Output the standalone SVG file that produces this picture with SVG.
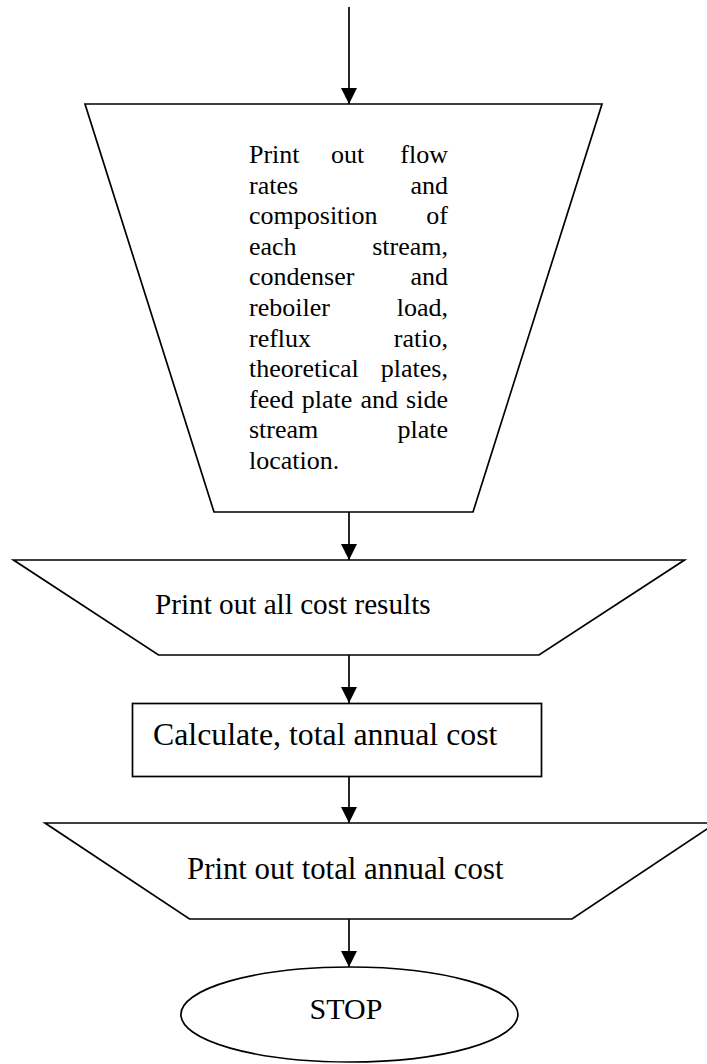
<svg xmlns="http://www.w3.org/2000/svg" width="707" height="1064" viewBox="0 0 707 1064">
<style>
.shape{fill:#fff;stroke:#000;stroke-width:1.7}
.conn{stroke:#000;stroke-width:1.7;fill:none}
.t{font-family:"Liberation Serif","Times New Roman",serif;fill:#000}
.body{font-size:26px}
.lbl{font-size:30px}
</style>
<defs>
<marker id="ah" markerUnits="userSpaceOnUse" markerWidth="16" markerHeight="16" refX="16" refY="8" orient="auto">
<path d="M0,0 L16,8 L0,16 z" fill="#000"/>
</marker>
</defs>
<g id="connectors">
<line class="conn" x1="349" y1="7" x2="349" y2="104" marker-end="url(#ah)"/>
<line class="conn" x1="349" y1="512" x2="349" y2="560" marker-end="url(#ah)"/>
<line class="conn" x1="349" y1="655" x2="349" y2="703" marker-end="url(#ah)"/>
<line class="conn" x1="349" y1="777" x2="349" y2="823" marker-end="url(#ah)"/>
<line class="conn" x1="349" y1="919" x2="349" y2="967" marker-end="url(#ah)"/>
</g>
<g id="print-results">
<polygon class="shape" points="85,104 602,104 473,512 214,512"/>
<text class="t body">
<tspan x="249" y="163">Print</tspan><tspan x="331" y="163">out</tspan><tspan x="448" y="163" text-anchor="end">flow</tspan>
</text>
<text class="t body"><tspan x="249" y="193.6">rates</tspan><tspan x="448" y="193.6" text-anchor="end">and</tspan></text>
<text class="t body"><tspan x="249" y="224.2">composition</tspan><tspan x="448" y="224.2" text-anchor="end">of</tspan></text>
<text class="t body"><tspan x="249" y="254.8">each</tspan><tspan x="448" y="254.8" text-anchor="end">stream,</tspan></text>
<text class="t body"><tspan x="249" y="285.4">condenser</tspan><tspan x="448" y="285.4" text-anchor="end">and</tspan></text>
<text class="t body"><tspan x="249" y="316">reboiler</tspan><tspan x="448" y="316" text-anchor="end">load,</tspan></text>
<text class="t body"><tspan x="249" y="346.6">reflux</tspan><tspan x="448" y="346.6" text-anchor="end">ratio,</tspan></text>
<text class="t body"><tspan x="249" y="377.2">theoretical</tspan><tspan x="448" y="377.2" text-anchor="end">plates,</tspan></text>
<text class="t body"><tspan x="249" y="407.8">feed</tspan><tspan x="301.8" y="407.8">plate</tspan><tspan x="360.4" y="407.8">and</tspan><tspan x="448" y="407.8" text-anchor="end">side</tspan></text>
<text class="t body"><tspan x="249" y="438.4">stream</tspan><tspan x="448" y="438.4" text-anchor="end">plate</tspan></text>
<text class="t body" x="249" y="469">location.</text>
</g>
<g id="print-cost-results">
<polygon class="shape" points="13.5,560 684.5,560 539,655 158.5,655"/>
<text class="t" style="font-size:29.2px" x="155" y="614">Print out all cost results</text>
</g>
<g id="calc-total">
<rect class="shape" x="132.5" y="703.5" width="409" height="73"/>
<text class="t" style="font-size:31.8px" x="153" y="745">Calculate, total annual cost</text>
</g>
<g id="print-total">
<polygon class="shape" points="45,823 716,823 572,919 189.5,919"/>
<text class="t" style="font-size:30.8px" x="187" y="879">Print out total annual cost</text>
</g>
<g id="stop">
<ellipse class="shape" cx="349.4" cy="1014.5" rx="168.5" ry="47.5"/>
<text class="t lbl" x="346" y="1019" text-anchor="middle">STOP</text>
</g>
</svg>
